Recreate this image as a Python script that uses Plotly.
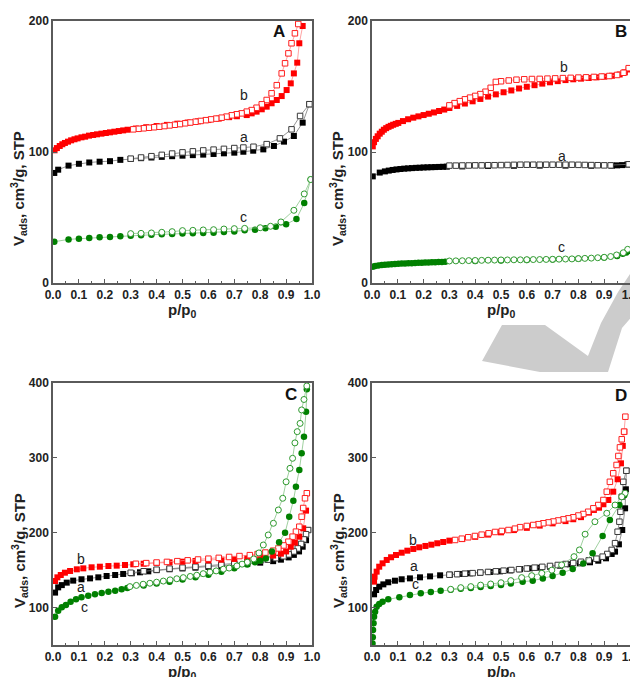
import plotly.graph_objects as go

OFF = 8            # page body margin offset
W, H = 630, 669    # figure size so that page = 638 x 677

# ---------------- DATA ----------------
x_ticks = [0.0, 0.1, 0.2, 0.3, 0.4, 0.5, 0.6, 0.7, 0.8, 0.9, 1.0]
x_tick_labels = ["0.0", "0.1", "0.2", "0.3", "0.4", "0.5", "0.6", "0.7", "0.8", "0.9", "1.0"]
y_ticks_top = [0, 100, 200]
y_ticks_bottom = [100, 200, 300, 400]

# Panel A
A_a_ads_x = [0.005, 0.02, 0.06, 0.10, 0.14, 0.18, 0.22, 0.26, 0.30, 0.34, 0.38, 0.42, 0.46, 0.50, 0.54, 0.58, 0.62, 0.66, 0.70, 0.735, 0.773, 0.812, 0.853, 0.892, 0.93, 0.964, 0.99]
A_a_ads_y = [84, 86.5, 89.6, 91, 92, 92.6, 93, 94, 94.7, 95.3, 95.8, 96.3, 96.8, 97.2, 97.6, 98.0, 98.5, 99.0, 99.5, 100.2, 101.0, 102.0, 104.6, 107.9, 112.2, 122.4, 136.5]
A_a_des_x = [0.99, 0.954, 0.921, 0.876, 0.825, 0.774, 0.735, 0.70, 0.66, 0.62, 0.58, 0.54, 0.50, 0.46, 0.42, 0.38, 0.34, 0.30]
A_a_des_y = [136.5, 127.5, 117.3, 110.4, 106, 104, 103.4, 103, 102.4, 101.8, 101.2, 100.5, 99.7, 98.8, 97.8, 96.8, 95.8, 94.9]

A_b_ads_x = [0.006, 0.015, 0.026, 0.036, 0.046, 0.058, 0.07, 0.083, 0.095, 0.11, 0.124, 0.139, 0.155, 0.17, 0.187, 0.204, 0.22, 0.237, 0.254, 0.271, 0.288, 0.32, 0.36, 0.40, 0.44, 0.48, 0.52, 0.56, 0.60, 0.64, 0.68, 0.71, 0.748, 0.767, 0.786, 0.806, 0.825, 0.844, 0.864, 0.883, 0.902, 0.918, 0.93, 0.943, 0.951, 0.964]
A_b_ads_y = [101.3, 103, 104.6, 105.9, 106.9, 107.9, 108.9, 109.7, 110.4, 111.2, 111.7, 112.5, 113, 113.5, 114, 114.5, 115, 115.5, 116, 116.5, 117, 117.9, 118.9, 119.8, 120.7, 121.6, 122.5, 123.4, 124.4, 125.5, 126.6, 127.3, 128.2, 129.5, 130.8, 132.6, 134.6, 137.2, 139.7, 142.7, 147.3, 152.4, 160, 168.2, 183, 196.2]
A_b_des_x = [0.947, 0.934, 0.921, 0.909, 0.896, 0.883, 0.864, 0.844, 0.825, 0.806, 0.786, 0.767, 0.748, 0.728, 0.709, 0.69, 0.67, 0.651, 0.63, 0.61, 0.59, 0.57, 0.55, 0.53, 0.51, 0.49, 0.47, 0.45, 0.43, 0.41, 0.39, 0.37, 0.35, 0.33, 0.31]
A_b_des_y = [197.7, 190.6, 183, 175.3, 167.7, 160, 151, 144.8, 139.7, 136.4, 133.8, 132, 130.8, 129.5, 128.8, 128, 127, 126.2, 125.5, 124.9, 124.3, 123.7, 123.1, 122.5, 121.9, 121.3, 120.8, 120.3, 119.8, 119.3, 118.9, 118.5, 118.1, 117.7, 117.3]

A_c_ads_x = [0.005, 0.06, 0.10, 0.14, 0.18, 0.22, 0.26, 0.30, 0.34, 0.38, 0.42, 0.46, 0.50, 0.54, 0.58, 0.62, 0.66, 0.70, 0.74, 0.78, 0.82, 0.86, 0.90, 0.94, 0.97, 0.995]
A_c_ads_y = [31.5, 33.3, 33.8, 34.4, 34.9, 35.1, 35.6, 36.1, 36.4, 36.9, 37.2, 37.4, 37.7, 37.9, 38.2, 38.4, 38.9, 39.4, 40.2, 40.7, 41.7, 43, 44.8, 48.9, 61, 79]
A_c_des_x = [0.995, 0.97, 0.93, 0.88, 0.84, 0.80, 0.74, 0.70, 0.66, 0.62, 0.58, 0.54, 0.50, 0.46, 0.42, 0.38, 0.34, 0.30]
A_c_des_y = [79, 68, 55.5, 46.6, 43.3, 42.2, 41.7, 41.5, 41.2, 40.7, 40.5, 40.2, 40, 39.2, 38.7, 38.2, 37.9, 37.7]

# Panel B
B_a_ads_x = [0.003, 0.03, 0.05, 0.065, 0.08, 0.095, 0.11, 0.125, 0.14, 0.155, 0.17, 0.185, 0.2, 0.215, 0.23, 0.245, 0.26, 0.275, 0.29, 0.35, 0.45, 0.55, 0.65, 0.75, 0.85, 0.93, 0.95, 0.97, 0.99]
B_a_ads_y = [81.4, 84.3, 85.2, 85.8, 86.3, 86.7, 87.0, 87.3, 87.5, 87.7, 87.9, 88.0, 88.2, 88.3, 88.4, 88.5, 88.6, 88.7, 88.8, 89.0, 89.3, 89.5, 89.6, 89.6, 89.5, 89.6, 89.8, 90.0, 90.5]
B_a_des_x = [0.995, 0.925, 0.90, 0.875, 0.85, 0.825, 0.80, 0.775, 0.75, 0.725, 0.70, 0.675, 0.65, 0.625, 0.60, 0.575, 0.55, 0.525, 0.50, 0.475, 0.45, 0.425, 0.40, 0.375, 0.35, 0.325, 0.30]
B_a_des_y = [90.6, 89.8, 89.8, 89.9, 90.0, 90.1, 90.2, 90.3, 90.3, 90.3, 90.3, 90.3, 90.3, 90.3, 90.3, 90.3, 90.2, 90.1, 90.0, 89.9, 89.9, 89.8, 89.8, 89.7, 89.7, 89.6, 89.6]

B_b_ads_x = [0.003, 0.008, 0.015, 0.022, 0.03, 0.038, 0.046, 0.055, 0.064, 0.073, 0.082, 0.092, 0.102, 0.12, 0.14, 0.16, 0.18, 0.2, 0.22, 0.24, 0.26, 0.28, 0.30, 0.33, 0.36, 0.39, 0.42, 0.45, 0.48, 0.51, 0.54, 0.57, 0.60, 0.63, 0.66, 0.69, 0.72, 0.75, 0.78, 0.81, 0.84, 0.87, 0.90, 0.93, 0.96, 0.98, 0.995]
B_b_ads_y = [104.3, 107.5, 110, 112, 114, 115.5, 117, 118.2, 119.2, 120, 120.8, 121.5, 122.2, 123.6, 125, 126.2, 127.2, 128.2, 129.2, 130.2, 131.3, 132.4, 133.6, 135.2, 137, 138.7, 140.5, 142.3, 144, 145.6, 147, 148.5, 149.8, 151, 152.2, 153.2, 154.1, 154.9, 155.5, 156, 156.5, 157, 157.5, 158.2, 159.2, 160.8, 163]
B_b_des_x = [0.995, 0.975, 0.95, 0.92, 0.89, 0.86, 0.83, 0.80, 0.77, 0.74, 0.71, 0.68, 0.65, 0.62, 0.59, 0.56, 0.53, 0.50, 0.48, 0.46, 0.44, 0.42, 0.40, 0.38, 0.36, 0.34, 0.32, 0.30]
B_b_des_y = [164, 160.5, 158.8, 158, 157.6, 157.3, 157, 156.8, 156.6, 156.4, 156.2, 156, 155.8, 155.7, 155.5, 155.2, 154.6, 154, 153.5, 149, 146, 144.2, 142.8, 141.5, 140.2, 138.8, 137.3, 135.6]

B_c_ads_x = [0.003, 0.012, 0.025, 0.038, 0.05, 0.063, 0.076, 0.089, 0.102, 0.115, 0.128, 0.141, 0.154, 0.167, 0.18, 0.193, 0.206, 0.219, 0.232, 0.245, 0.258, 0.271, 0.284, 0.40, 0.50, 0.60, 0.70, 0.80, 0.90, 0.95, 0.972, 0.985, 0.995]
B_c_ads_y = [12.5, 13.0, 13.4, 13.7, 14.0, 14.2, 14.4, 14.5, 14.6, 14.8, 14.9, 15.0, 15.1, 15.3, 15.4, 15.5, 15.6, 15.7, 15.8, 15.9, 16.0, 16.1, 16.3, 16.8, 17.2, 17.6, 18.0, 18.6, 19.4, 20.6, 22.4, 23.2, 24.5]
B_c_des_x = [0.991, 0.974, 0.948, 0.925, 0.90, 0.875, 0.85, 0.825, 0.80, 0.775, 0.75, 0.725, 0.70, 0.675, 0.65, 0.625, 0.60, 0.575, 0.55, 0.525, 0.50, 0.475, 0.45, 0.425, 0.40, 0.375, 0.35, 0.325, 0.30]
B_c_des_y = [25.7, 23.1, 21.4, 20.2, 19.6, 19.3, 19.0, 18.8, 18.6, 18.4, 18.3, 18.2, 18.1, 18.0, 17.9, 17.9, 17.8, 17.7, 17.7, 17.6, 17.6, 17.5, 17.4, 17.3, 17.2, 17.1, 17.0, 16.9, 16.8]

# Panel C
C_a_ads_x = [0.008, 0.02, 0.034, 0.053, 0.078, 0.11, 0.143, 0.175, 0.207, 0.24, 0.271, 0.304, 0.336, 0.368, 0.40, 0.45, 0.50, 0.55, 0.60, 0.65, 0.70, 0.75, 0.80, 0.85, 0.88, 0.91, 0.93, 0.95, 0.964, 0.977, 0.985]
C_a_ads_y = [120, 127, 130, 133.3, 136, 137.8, 139, 140.4, 142.2, 143.5, 144.9, 145.8, 147.1, 148.4, 150, 151.2, 152.3, 153.3, 154.3, 155.5, 156.8, 158.3, 160, 162, 164, 167, 170.4, 175, 181.3, 190, 203.6]
C_a_des_x = [0.985, 0.977, 0.968, 0.958, 0.945, 0.93, 0.91, 0.89, 0.86, 0.83, 0.80, 0.75, 0.70, 0.65, 0.60, 0.55, 0.50, 0.45, 0.40, 0.35, 0.30]
C_a_des_y = [203.6, 198, 191, 185, 179, 175, 171, 168.5, 166, 164, 162.5, 160.5, 158.8, 157.3, 155.8, 154.5, 153.3, 152, 150.6, 148.5, 146.5]

C_b_ads_x = [0.008, 0.017, 0.03, 0.046, 0.066, 0.092, 0.117, 0.149, 0.181, 0.214, 0.246, 0.278, 0.31, 0.35, 0.40, 0.45, 0.50, 0.55, 0.60, 0.65, 0.70, 0.75, 0.80, 0.85, 0.88, 0.90, 0.918, 0.934, 0.951, 0.966, 0.977]
C_b_ads_y = [135.5, 140.4, 143.5, 146.6, 148.9, 151.1, 152.4, 153.8, 154.6, 155.5, 156, 156.9, 157.8, 158.6, 159.5, 160.4, 161.3, 162.2, 163, 164, 165, 166.2, 167.6, 169.5, 172, 175, 181.3, 186.7, 194.7, 205.9, 229.5]
C_b_des_x = [0.98, 0.973, 0.966, 0.96, 0.951, 0.938, 0.925, 0.909, 0.89, 0.87, 0.85, 0.82, 0.79, 0.76, 0.72, 0.68, 0.64, 0.60, 0.56, 0.52, 0.48, 0.44, 0.40, 0.36, 0.32]
C_b_des_y = [252.7, 246, 233, 221.4, 208, 201.4, 194.7, 188, 183, 179, 176, 173.5, 171.5, 170, 168.8, 167.6, 166.4, 165.3, 164.2, 163.1, 162, 161, 160.2, 159.4, 158.5]

C_c_ads_x = [0.008, 0.02, 0.034, 0.05, 0.068, 0.089, 0.11, 0.136, 0.162, 0.188, 0.214, 0.24, 0.265, 0.287, 0.35, 0.40, 0.45, 0.50, 0.55, 0.60, 0.65, 0.70, 0.75, 0.78, 0.80, 0.822, 0.845, 0.873, 0.896, 0.912, 0.928, 0.938, 0.951, 0.96, 0.969, 0.977, 0.98]
C_c_ads_y = [87.8, 95.8, 100.4, 103.5, 107.9, 111.1, 113.7, 115.9, 117.7, 119.5, 121.2, 122.6, 124.4, 126.1, 129.5, 132, 134.5, 137.5, 140.5, 144, 148, 152.5, 157.5, 160.5, 162.5, 165.5, 175, 187.2, 200, 221.4, 242.8, 261.5, 283.8, 306, 328.3, 361.7, 391.6]
C_c_des_x = [0.98, 0.969, 0.96, 0.954, 0.943, 0.934, 0.925, 0.915, 0.90, 0.887, 0.87, 0.851, 0.831, 0.812, 0.795, 0.775, 0.75, 0.73, 0.71, 0.68, 0.658, 0.63, 0.606, 0.58, 0.555, 0.53, 0.503, 0.478, 0.452, 0.426, 0.40, 0.374, 0.348, 0.322, 0.297]
C_c_des_y = [396, 378, 364, 346, 335, 320, 299.4, 286, 268, 246, 230.4, 212.6, 197, 183.6, 173, 165, 160.6, 158, 155.7, 152.8, 151.3, 149, 147.3, 145.3, 143.2, 141.6, 140, 138.5, 137, 135.4, 133.9, 132.5, 131.2, 129.6, 128]

# Panel D
D_a_ads_x = [0.008, 0.016, 0.028, 0.044, 0.063, 0.089, 0.115, 0.147, 0.186, 0.225, 0.264, 0.302, 0.341, 0.38, 0.419, 0.457, 0.496, 0.535, 0.574, 0.612, 0.651, 0.69, 0.729, 0.767, 0.806, 0.845, 0.877, 0.907, 0.929, 0.942, 0.957, 0.97, 0.981, 0.984, 0.986]
D_a_ads_y = [117.7, 123.5, 127.9, 131, 133.8, 135.9, 137.8, 139, 140.4, 141.7, 143.1, 143.9, 144.9, 145.8, 146.6, 147.5, 148.4, 149.7, 151.3, 152.4, 153.3, 154.6, 156, 157.8, 159.1, 160.5, 162.6, 165.8, 171.6, 174.7, 184.5, 203.6, 232.6, 258, 282.8]
D_a_des_x = [0.986, 0.974, 0.968, 0.963, 0.959, 0.952, 0.942, 0.929, 0.912, 0.894, 0.87, 0.84, 0.81, 0.78, 0.75, 0.72, 0.69, 0.66, 0.63, 0.60, 0.57, 0.54, 0.51, 0.48, 0.45, 0.42, 0.39, 0.36, 0.33, 0.30]
D_a_des_y = [282.8, 268, 248, 228, 214.7, 201.3, 186, 177, 171.6, 168, 165.3, 163, 161.2, 159.6, 158.2, 156.9, 155.6, 154.4, 153.3, 152.2, 151.2, 150.2, 149.3, 148.4, 147.6, 146.8, 146, 145.3, 144.6, 143.9]

D_b_ads_x = [0.008, 0.01, 0.018, 0.028, 0.041, 0.057, 0.074, 0.093, 0.115, 0.137, 0.16, 0.183, 0.207, 0.23, 0.253, 0.276, 0.30, 0.35, 0.40, 0.45, 0.50, 0.55, 0.60, 0.65, 0.70, 0.75, 0.78, 0.81, 0.841, 0.86, 0.88, 0.897, 0.916, 0.935, 0.952, 0.965, 0.972, 0.978]
D_b_ads_y = [134.6, 141.3, 148, 154.6, 159.1, 163.6, 167.2, 170.2, 173.3, 176, 178.3, 180.5, 182.3, 184, 185.9, 187.6, 189.4, 191.5, 194.5, 197.5, 200.5, 203.5, 206.5, 209.5, 212.5, 215.5, 218, 220.8, 226.8, 230.4, 233.4, 238, 243.7, 254.8, 271.4, 292.7, 316, 335]
D_b_des_x = [0.982, 0.977, 0.968, 0.961, 0.955, 0.948, 0.935, 0.922, 0.91, 0.897, 0.877, 0.858, 0.838, 0.819, 0.80, 0.78, 0.761, 0.742, 0.722, 0.703, 0.684, 0.664, 0.645, 0.625, 0.60, 0.574, 0.554, 0.529, 0.503, 0.477, 0.452, 0.425, 0.399, 0.373, 0.348, 0.322]
D_b_des_y = [355, 335, 324.8, 314, 302.5, 290.5, 279.4, 268, 254.8, 243.7, 237, 232.6, 228, 225, 223, 220.6, 219.2, 217.8, 216.4, 215, 213.8, 212.6, 211.4, 210.3, 209, 207.4, 205.4, 203.6, 202.3, 201, 199.2, 197.4, 195.6, 193.9, 192, 190.3]

D_c_ads_x = [0.002, 0.003, 0.004, 0.006, 0.008, 0.012, 0.018, 0.028, 0.041, 0.063, 0.106, 0.147, 0.189, 0.228, 0.266, 0.305, 0.344, 0.383, 0.421, 0.46, 0.50, 0.538, 0.584, 0.623, 0.662, 0.70, 0.739, 0.778, 0.819, 0.855, 0.894, 0.922, 0.959, 0.978]
D_c_ads_y = [52, 60.3, 70, 79, 87.8, 94.5, 101, 104.8, 107.9, 111, 113.7, 116.8, 119, 120.8, 122.5, 123.8, 125, 126.3, 127.6, 128.8, 130.3, 132.2, 134.6, 135.9, 139, 142.2, 146.6, 151.5, 159, 172.5, 195.6, 217, 237, 250]
D_c_des_x = [0.981, 0.968, 0.942, 0.91, 0.864, 0.826, 0.804, 0.783, 0.735, 0.697, 0.658, 0.619, 0.58, 0.538, 0.50, 0.46, 0.421, 0.383, 0.344, 0.305]
D_c_des_y = [252.7, 248, 237, 226, 214.7, 198, 177, 168, 157, 150, 145.8, 142.6, 140, 136, 133.2, 131.5, 130, 128, 126.6, 124.4]

panel_letters = ["A", "B", "C", "D"]
series_names = ["a", "b", "c"]

# ---------------- STYLE ----------------
FONT = "Liberation Sans, Arial, Helvetica, sans-serif"
AX_COL = "#5a5a5a"
styles = {
    "a": dict(fill="#000000", open="#3a3a3a", line="#7a7a7a", sym="square", size=6),
    "b": dict(fill="#ff0000", open="#ff2020", line="#ff8a8a", sym="square", size=6),
    "c": dict(fill="#008000", open="#2f9a2f", line="#86c486", sym="circle", size=6.5),
}

data = {
    "A": {"a": (A_a_ads_x, A_a_ads_y, A_a_des_x, A_a_des_y),
          "b": (A_b_ads_x, A_b_ads_y, A_b_des_x, A_b_des_y),
          "c": (A_c_ads_x, A_c_ads_y, A_c_des_x, A_c_des_y)},
    "B": {"a": (B_a_ads_x, B_a_ads_y, B_a_des_x, B_a_des_y),
          "b": (B_b_ads_x, B_b_ads_y, B_b_des_x, B_b_des_y),
          "c": (B_c_ads_x, B_c_ads_y, B_c_des_x, B_c_des_y)},
    "C": {"a": (C_a_ads_x, C_a_ads_y, C_a_des_x, C_a_des_y),
          "b": (C_b_ads_x, C_b_ads_y, C_b_des_x, C_b_des_y),
          "c": (C_c_ads_x, C_c_ads_y, C_c_des_x, C_c_des_y)},
    "D": {"a": (D_a_ads_x, D_a_ads_y, D_a_des_x, D_a_des_y),
          "b": (D_b_ads_x, D_b_ads_y, D_b_des_x, D_b_des_y),
          "c": (D_c_ads_x, D_c_ads_y, D_c_des_x, D_c_des_y)},
}

# plot areas in screen pixels: (left, right, top, bottom)
boxes = {"A": (53, 312, 21, 283), "B": (372, 630, 21, 283),
         "C": (53, 312, 383, 645), "D": (372, 630, 383, 645)}
yranges = {"A": [0, 200], "B": [0, 200], "C": [50, 400], "D": [50, 400]}
axis_ids = {"A": "", "B": "2", "C": "3", "D": "4"}

label_pos = {
    "A": {"a": (0.737, 111.5), "b": (0.737, 143.5), "c": (0.737, 50.4)},
    "B": {"a": (0.736, 97), "b": (0.744, 164.9), "c": (0.736, 27.5)},
    "C": {"a": (0.108, 127.5), "b": (0.108, 164.9), "c": (0.12, 100.8)},
    "D": {"a": (0.163, 155.5), "b": (0.159, 190), "c": (0.167, 131.5)},
}
letter_px = {"A": (279, 32), "B": (621, 32), "C": (291, 394), "D": (621, 395)}


def px2paper(px, py):
    return (px - OFF) / W, 1 - (py - OFF) / H


fig = go.Figure()
layout = dict(width=W, height=H, margin=dict(l=0, r=0, t=0, b=0, autoexpand=False),
              paper_bgcolor="white", plot_bgcolor="rgba(0,0,0,0)",
              showlegend=False, font=dict(family=FONT, color="#222"))

annotations = []
for p in panel_letters:
    aid = axis_ids[p]
    l, r, t, b = boxes[p]
    x0, y0 = px2paper(l, b)
    x1, y1 = px2paper(r, t)
    layout["xaxis" + aid] = dict(
        domain=[x0, x1], anchor="y" + aid, range=[0, 1], tickvals=x_ticks, ticktext=x_tick_labels,
        ticks="inside", ticklen=4, tickwidth=1, tickcolor=AX_COL, automargin=False,
        ticklabeloverflow="allow",
        minor=dict(dtick=0.05, ticks="inside", ticklen=2.5, tickcolor=AX_COL),
        showline=True, linecolor=AX_COL, linewidth=1.5, mirror=True,
        showgrid=False, zeroline=False,
        tickfont=dict(family=FONT, size=12, color="#222", weight="bold"))
    layout["yaxis" + aid] = dict(
        domain=[y0, y1], anchor="x" + aid, range=yranges[p],
        tickvals=y_ticks_top if p in "AB" else y_ticks_bottom,
        ticks="inside", ticklen=4, tickwidth=1, tickcolor=AX_COL, automargin=False,
        ticklabeloverflow="allow",
        showline=True, linecolor=AX_COL, linewidth=1.5, mirror=True,
        showgrid=False, zeroline=False,
        tickfont=dict(family=FONT, size=12, color="#222", weight="bold"))

    for s in series_names:
        st = styles[s]
        ax_x, ax_y, ds_x, ds_y = data[p][s]
        # adsorption branch (filled)
        fig.add_trace(go.Scatter(
            x=ax_x, y=ax_y, mode="lines+markers", xaxis="x" + aid, yaxis="y" + aid,
            line=dict(color=st["line"], width=0.8),
            marker=dict(symbol=st["sym"], size=st["size"], color=st["fill"],
                        line=dict(width=0)),
            hoverinfo="skip"))
        # desorption branch (open, white interior)
        fig.add_trace(go.Scatter(
            x=ds_x, y=ds_y, mode="lines+markers", xaxis="x" + aid, yaxis="y" + aid,
            line=dict(color=st["line"], width=0.8),
            marker=dict(symbol=st["sym"], size=st["size"] - 0.5, color="white",
                        line=dict(color=st["open"], width=1)),
            hoverinfo="skip"))
        lx, ly = label_pos[p][s]
        annotations.append(dict(x=lx, y=ly, xref="x" + aid, yref="y" + aid, text=s,
                                xanchor="center", yanchor="middle",
                                showarrow=False, font=dict(family=FONT, size=14, color="#222")))

    lx, ly = px2paper(*letter_px[p])
    annotations.append(dict(x=lx, y=ly, xref="paper", yref="paper", text=p, showarrow=False,
                            xanchor="center", yanchor="middle",
                            font=dict(family=FONT, size=17, color="#111", weight="bold")))
    tx, ty = px2paper((l + r) / 2, b + 27)
    annotations.append(dict(x=tx, y=ty, xref="paper", yref="paper", text="p/p<sub>0</sub>",
                            xanchor="center", yanchor="middle", showarrow=False,
                            font=dict(family=FONT, size=15, color="#222", weight="bold")))
    yx, yy = px2paper(l - 34, t + 168)
    annotations.append(dict(x=yx, y=yy, xref="paper", yref="paper", textangle=-90,
                            xanchor="center", yanchor="middle",
                            text="V<sub>ads</sub>, cm<sup>3</sup>/g, STP", showarrow=False,
                            font=dict(family=FONT, size=15, color="#222", weight="bold")))

layout["annotations"] = annotations

# decorative watermark outline (screen pixels)
wm = [(482, 361), (502, 325), (545, 325), (588, 356), (601, 323), (618, 292), (638, 262),
      (646, 262), (646, 300), (622, 328), (608, 372), (540, 372)]
path = "M " + " L ".join("{:.4f},{:.4f}".format(*px2paper(x, y)) for x, y in wm) + " Z"
layout["shapes"] = [dict(type="path", path=path, xref="paper", yref="paper",
                         fillcolor="#cccccc", line=dict(width=0), layer="below")]

fig.update_layout(**layout)
fig.write_html("out.html")
